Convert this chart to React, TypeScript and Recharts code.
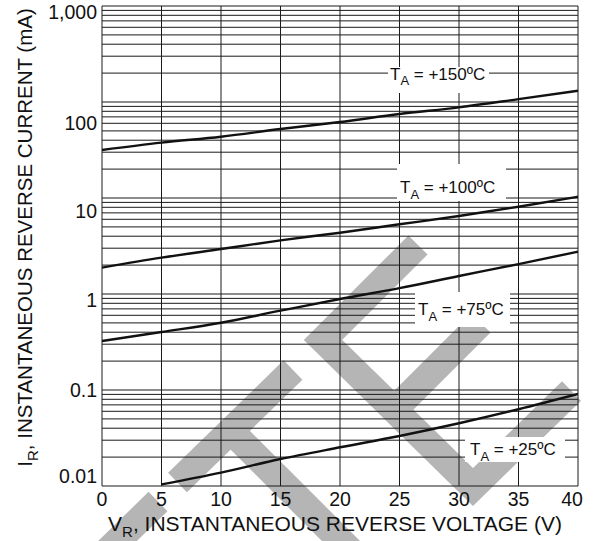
import React from 'react';
import { LineChart, Line, XAxis, YAxis, CartesianGrid, Customized } from 'recharts';

// reverse current (mA) vs reverse voltage (V)
const voltage = [0, 5, 10, 15, 20, 25, 30, 35, 40];
const current150 = [31.6, 37.7, 43.5, 52.3, 61.9, 75, 88, 107, 131];
const current100 = [1.88, 2.39, 2.94, 3.62, 4.35, 5.32, 6.49, 8.11, 10.3];
const current75 = [0.324, 0.402, 0.502, 0.67, 0.887, 1.15, 1.54, 2.05, 2.76];
const current25 = [null, 0.0104, 0.0138, 0.0191, 0.0253, 0.0332, 0.045, 0.063, 0.0908];

const xTicks = [0, 5, 10, 15, 20, 25, 30, 35, 40];
const yTicks = [0.01, 0.1, 1, 10, 100, 1000];
const yTickLabels = ['0.01', '0.1', '1', '10', '100', '1,000'];
const minorSteps = [1, 2, 3, 4, 5, 6, 7, 8, 9];

const data = voltage.map((v, i) => ({
  v,
  t150: current150[i],
  t100: current100[i],
  t75: current75[i],
  t25: current25[i],
}));

const gridValues = yTicks
  .slice(0, -1)
  .flatMap(d => minorSteps.map(m => +(d * m).toPrecision(3)))
  .concat([1000]);

const FONT = '"Liberation Sans", Arial, Helvetica, sans-serif';
const INK = '#111';

// tick labels in the original sit a bit off their grid lines
const yLabelShift: { [k: string]: number } = {
  '0.01': -3.5, '0.1': 6.5, '1': 12.5, '10': 20, '100': 28, '1000': 13,
};

const YTick = (props: any) => {
  const v = props.payload.value;
  const i = yTicks.indexOf(v);
  return (
    <text x={97} y={props.y + (yLabelShift[String(v)] ?? 0)} textAnchor="end"
      fontFamily={FONT} fontSize={19.5} fill={INK}>
      {yTickLabels[i]}
    </text>
  );
};

const XTick = (props: any) => {
  const v = props.payload.value;
  return (
    <text x={props.x + (v === 40 ? -6 : 0)} y={506} textAnchor="middle"
      fontFamily={FONT} fontSize={19.5} fill={INK}>
      {v}
    </text>
  );
};

const TempLabel = ({ x, y, box, temp }: { x: number; y: number; box: number[]; temp: string }) => (
  <g>
    <rect x={box[0]} y={box[1]} width={box[2] - box[0]} height={box[3] - box[1]} fill="#fff" />
    <text x={x} y={y} fontFamily={FONT} fontSize={17} fill={INK}>
      T<tspan fontSize={13} dy={5.5}>A</tspan>
      <tspan dy={-5.5}>{' = ' + temp}</tspan>
    </text>
  </g>
);

const Annotations = () => (
  <g>
    <TempLabel x={390} y={79.5} box={[388, 67, 489, 93]} temp="+150ºC" />
    <TempLabel x={400} y={193} box={[397, 164, 506, 201]} temp="+100ºC" />
    <TempLabel x={418} y={315} box={[415, 292, 510, 327]} temp="+75ºC" />
    <TempLabel x={470} y={455} box={[465, 437, 565, 462]} temp="+25ºC" />
    <text x={335} y={531} textAnchor="middle" fontFamily={FONT} fontSize={21} fill={INK}>
      V<tspan fontSize={15} dy={6}>R</tspan>
      <tspan dy={-6}>, INSTANTANEOUS REVERSE VOLTAGE (V)</tspan>
    </text>
    <text x={31.5} y={237.5} textAnchor="middle" transform="rotate(-90, 31.5, 237.5)"
      fontFamily={FONT} fontSize={20.5} fill={INK}>
      I<tspan fontSize={15} dy={6}>R</tspan>
      <tspan dy={-6}>, INSTANTANEOUS REVERSE CURRENT (mA)</tspan>
    </text>
  </g>
);

// grey watermark strokes sitting behind the chart
const Watermark = () => {
  const c = '#b5b5b5';
  const w = 27;
  return (
    <svg width={593} height={541} style={{ position: 'absolute', left: 0, top: 0 }}>
      <line x1={158} y1={501.5} x2={98} y2={560} stroke={c} strokeWidth={w} />
      <line x1={177.5} y1={482.5} x2={293} y2={370} stroke={c} strokeWidth={w} />
      <line x1={231} y1={431} x2={360} y2={560} stroke={c} strokeWidth={w} />
      <polyline points="418,245 323,340 473,487 571.5,391" fill="none" stroke={c}
        strokeWidth={w} strokeLinejoin="miter" />
      <line x1={394} y1={410} x2={481} y2={323} stroke={c} strokeWidth={w} />
    </svg>
  );
};

export default function App() {
  return (
    <div style={{ position: 'absolute', left: 0, top: 0, width: 593, height: 541, background: '#fff' }}>
      <Watermark />
      <div style={{ position: 'absolute', left: 0, top: 0 }}>
        <LineChart width={593} height={541} data={data}
          margin={{ top: 6, right: 15, bottom: 0, left: 0 }}>
          <CartesianGrid horizontalValues={gridValues} verticalValues={xTicks}
            stroke="#1a1a1a" strokeWidth={1} />
          <XAxis dataKey="v" type="number" domain={[0, 40]} ticks={xTicks} interval={0}
            height={55} axisLine={false} tickLine={false} tick={<XTick />} allowDataOverflow />
          <YAxis type="number" scale="log" domain={[0.01, 1000]} ticks={yTicks} interval={0}
            width={102} axisLine={false} tickLine={false} tick={<YTick />} allowDataOverflow />
          <Line dataKey="t150" stroke={INK} strokeWidth={2.4} dot={false} type="monotone" isAnimationActive={false} />
          <Line dataKey="t100" stroke={INK} strokeWidth={2.4} dot={false} type="monotone" isAnimationActive={false} />
          <Line dataKey="t75" stroke={INK} strokeWidth={2.4} dot={false} type="monotone" isAnimationActive={false} />
          <Line dataKey="t25" stroke={INK} strokeWidth={2.4} dot={false} type="monotone" isAnimationActive={false} />
          <Customized component={Annotations} />
        </LineChart>
      </div>
    </div>
  );
}
